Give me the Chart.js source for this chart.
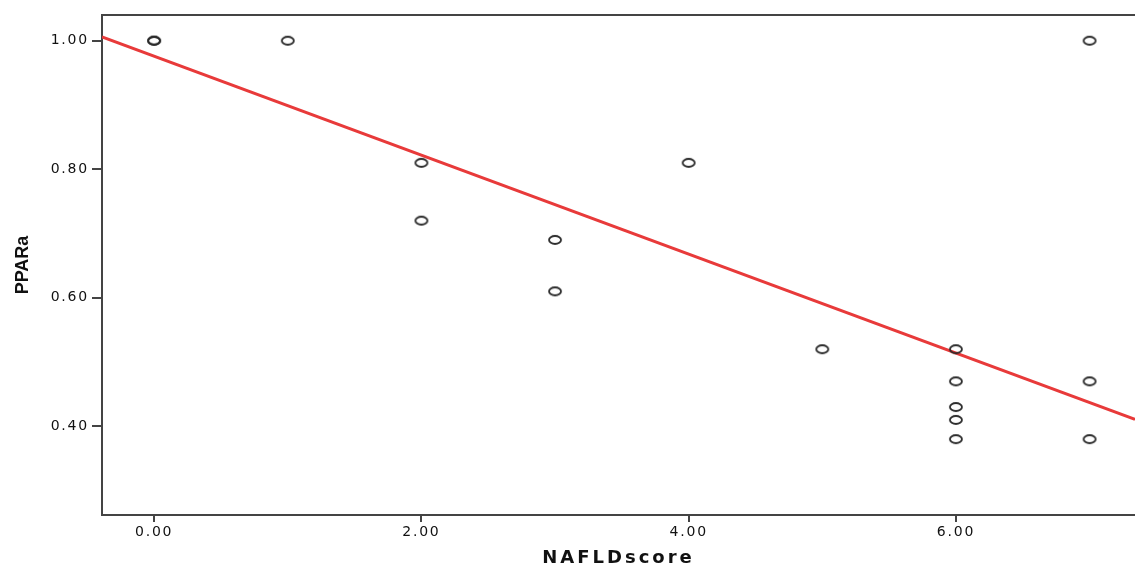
<!DOCTYPE html>
<html>
<head>
<meta charset="utf-8">
<script src="https://cdn.jsdelivr.net/npm/chart.js@4/dist/chart.umd.min.js"></script>
<style>
html,body{margin:0;padding:0;background:#fff;overflow:hidden;}
#wrap{width:1135px;height:569px;position:relative;}
</style>
</head>
<body>
<div id="wrap"><canvas id="c"></canvas></div>
<script>
// Data
const nafldScore = [0, 0, 1, 2, 2, 3, 3, 4, 5, 6, 6, 6, 6, 6, 7, 7, 7];
const ppara      = [1.00, 1.00, 1.00, 0.81, 0.72, 0.69, 0.61, 0.81, 0.52, 0.52, 0.47, 0.43, 0.41, 0.38, 1.00, 0.47, 0.38];
const xTicks = [0, 2, 4, 6];
const yTicks = [0.40, 0.60, 0.80, 1.00];
const xRange = [-0.39, 7.34];
const yRange = [0.262, 1.04];
// Fit line as drawn (intercept, slope)
const fitIntercept = 0.976;
const fitSlope = -0.0770;

const points = nafldScore.map((x, i) => ({x: x, y: ppara[i]}));
const fitLine = xRange.map(x => ({x: x, y: fitIntercept + fitSlope * x}));

function ellipseMarker() {
  const c = document.createElement('canvas');
  c.width = 16; c.height = 12;
  const g = c.getContext('2d');
  g.strokeStyle = '#2a2a2a';
  g.lineWidth = 1.8;
  g.beginPath();
  g.ellipse(8, 6, 6, 4, 0, 0, Math.PI * 2);
  g.stroke();
  return c;
}

const styling = {
  id: 'styling',
  afterLayout(chart) {
    const ctx = chart.ctx;
    const wrap = (s, spacing) => {
      if (!s || s._wrappedTitle) return;
      const orig = s.drawTitle.bind(s);
      s.drawTitle = function () {
        ctx.save();
        ctx.letterSpacing = spacing;
        orig();
        ctx.restore();
      };
      s._wrappedTitle = true;
    };
    wrap(chart.scales.x, '3px');
    wrap(chart.scales.y, '0px');
  },
  beforeDraw(chart) {
    chart.ctx.letterSpacing = '1.8px';
  },
  afterDraw(chart) {
    const {ctx, chartArea} = chart;
    ctx.save();
    ctx.strokeStyle = '#444';
    ctx.lineWidth = 2;
    ctx.beginPath();
    ctx.moveTo(chartArea.left, chartArea.top);
    ctx.lineTo(chartArea.right, chartArea.top);
    ctx.stroke();
    ctx.restore();
  }
};

new Chart(document.getElementById('c'), {
  type: 'scatter',
  data: {
    datasets: [
      {
        type: 'line',
        data: fitLine,
        borderColor: '#e83a3a',
        borderWidth: 3,
        pointRadius: 0,
        fill: false,
        order: 2
      },
      {
        data: points,
        pointStyle: ellipseMarker(),
        pointRadius: 6,
        order: 1
      }
    ]
  },
  options: {
    responsive: true,
    maintainAspectRatio: false,
    animation: false,
    layout: {autoPadding: false, padding: {top: 15, right: 0, left: 0, bottom: 0}},
    plugins: {legend: {display: false}, tooltip: {enabled: false}},
    scales: {
      x: {
        type: 'linear',
        min: xRange[0], max: xRange[1],
        afterBuildTicks: (a) => { a.ticks = xTicks.map(v => ({value: v})); },
        afterFit: (a) => { a.height = 54; a.paddingRight = 0; a.paddingLeft = 0; },
        border: {display: true, color: '#444', width: 2},
        grid: {drawOnChartArea: false, drawTicks: true, tickLength: 7, color: '#444', lineWidth: 2},
        ticks: {
          color: '#111', padding: 2,
          font: {family: 'DejaVu Sans, Liberation Sans', size: 14},
          callback: (v) => Number(v).toFixed(2),
          maxRotation: 0
        },
        title: {
          display: true, text: 'NAFLDscore', color: '#111',
          font: {family: 'DejaVu Sans, Liberation Sans', size: 18, weight: 'bold'},
          padding: {top: 2, bottom: 0}
        }
      },
      y: {
        type: 'linear',
        min: yRange[0], max: yRange[1],
        afterBuildTicks: (a) => { a.ticks = yTicks.map(v => ({value: v})); },
        afterFit: (a) => { a.width = 102; a.paddingTop = 0; a.paddingBottom = 0; },
        border: {display: true, color: '#444', width: 2},
        grid: {drawOnChartArea: false, drawTicks: true, tickLength: 10, color: '#444', lineWidth: 2},
        ticks: {
          color: '#111', padding: 3,
          font: {family: 'DejaVu Sans, Liberation Sans', size: 14},
          callback: (v) => Number(v).toFixed(2)
        },
        title: {
          display: true, text: 'PPARa', color: '#111',
          font: {family: 'Liberation Sans Narrow, Arial Narrow, Liberation Sans', size: 18, weight: 'bold'},
          padding: {top: 12, bottom: 0}
        }
      }
    }
  },
  plugins: [styling]
});
</script>
</body>
</html>
